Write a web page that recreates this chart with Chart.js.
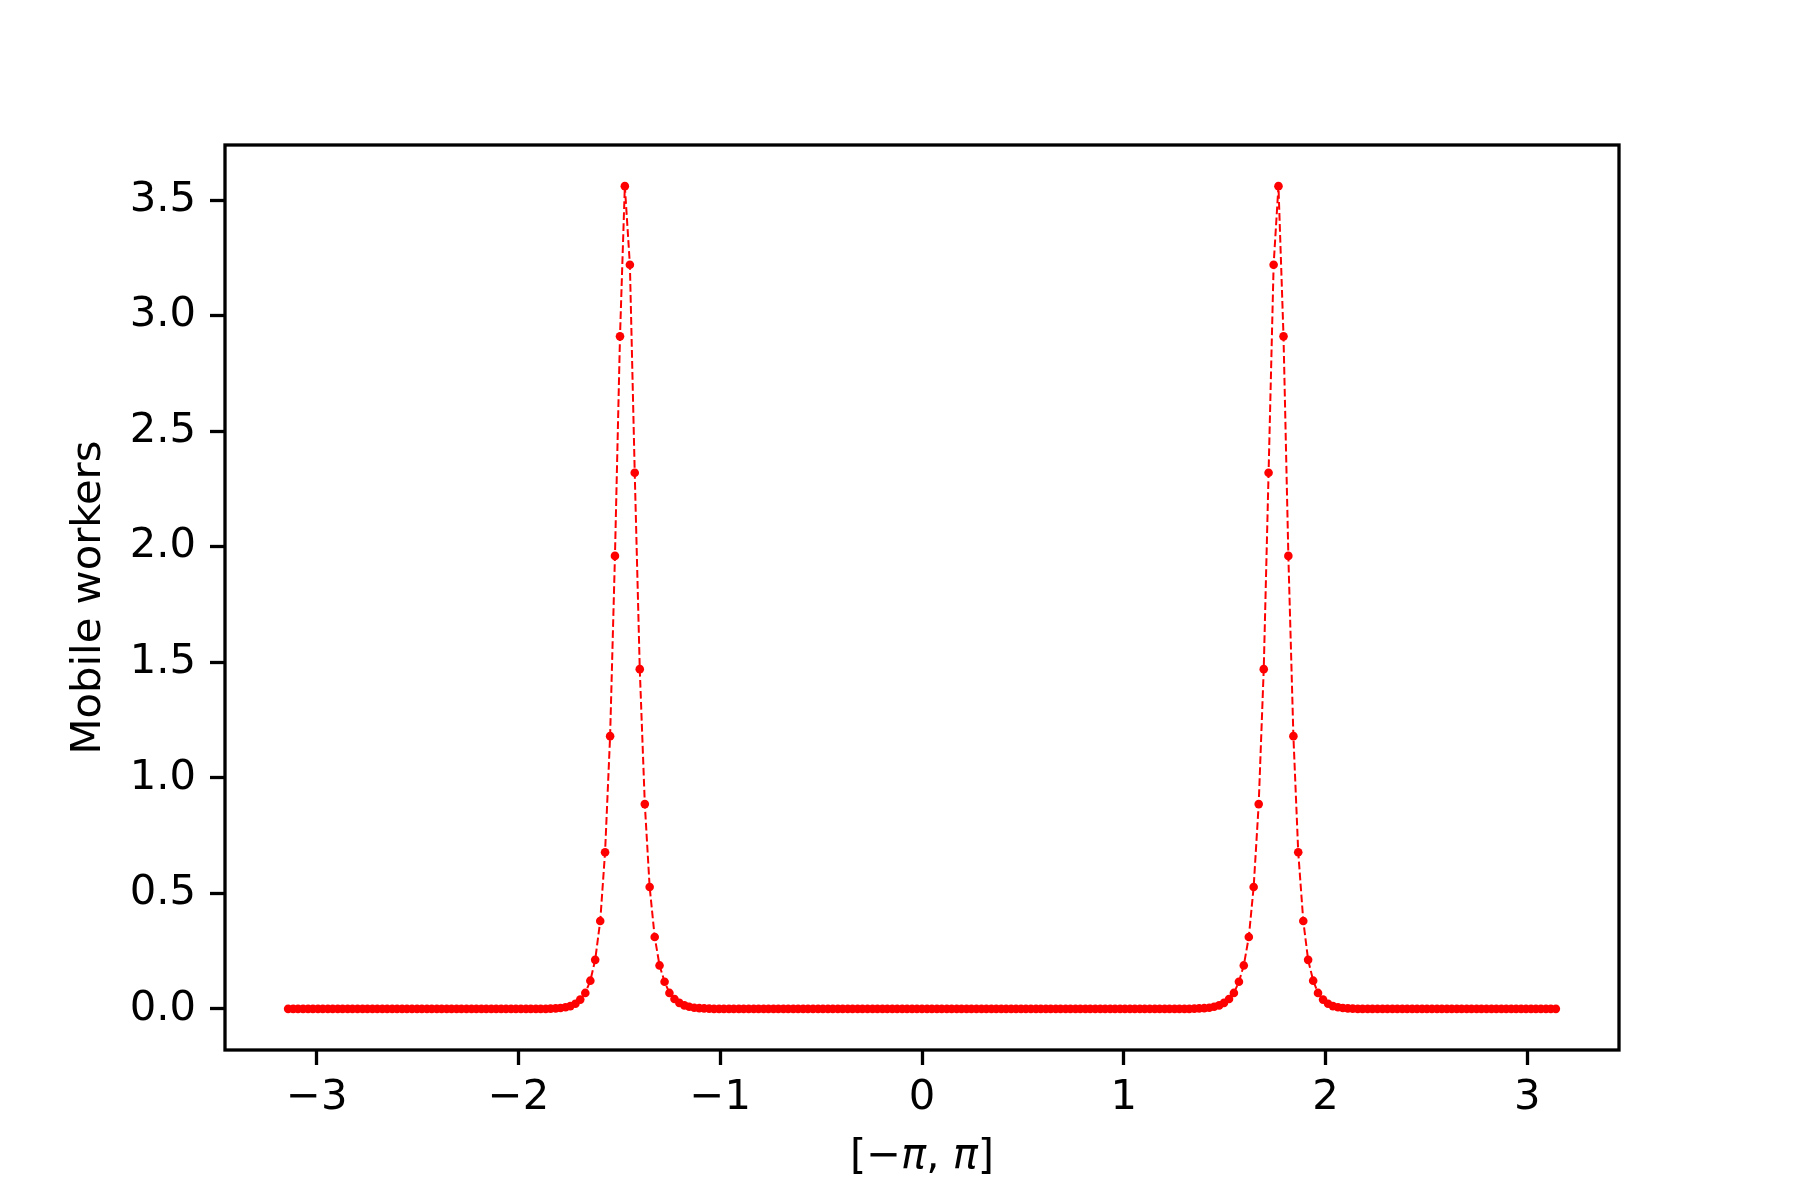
<!DOCTYPE html>
<html>
<head>
<meta charset="utf-8">
<title>Mobile workers</title>
<script src="https://cdn.jsdelivr.net/npm/chart.js@4.4.1/dist/chart.umd.min.js"></script>
<style>
  html, body { margin: 0; padding: 0; background: #fff; }
  canvas { display: block; }
</style>
</head>
<body>
<canvas id="chart" width="1800" height="1200" style="width:1800px;height:1200px"></canvas>
<script>
// positions on [-pi, pi]
const xs = [
  -3.142,-3.117,-3.093,-3.068,-3.043,-3.019,-2.994,-2.970,-2.945,
  -2.921,-2.896,-2.872,-2.847,-2.823,-2.798,-2.773,-2.749,-2.724,-2.700,
  -2.675,-2.651,-2.626,-2.602,-2.577,-2.553,-2.528,-2.503,-2.479,-2.454,
  -2.430,-2.405,-2.381,-2.356,-2.332,-2.307,-2.283,-2.258,-2.233,-2.209,
  -2.184,-2.160,-2.135,-2.111,-2.086,-2.062,-2.037,-2.013,-1.988,-1.963,
  -1.939,-1.914,-1.890,-1.865,-1.841,-1.816,-1.792,-1.767,-1.743,-1.718,
  -1.694,-1.669,-1.644,-1.620,-1.595,-1.571,-1.546,-1.522,-1.497,-1.473,
  -1.448,-1.424,-1.399,-1.374,-1.350,-1.325,-1.301,-1.276,-1.252,-1.227,
  -1.203,-1.178,-1.154,-1.129,-1.104,-1.080,-1.055,-1.031,-1.006,-0.982,
  -0.957,-0.933,-0.908,-0.884,-0.859,-0.834,-0.810,-0.785,-0.761,-0.736,
  -0.712,-0.687,-0.663,-0.638,-0.614,-0.589,-0.565,-0.540,-0.515,-0.491,
  -0.466,-0.442,-0.417,-0.393,-0.368,-0.344,-0.319,-0.295,-0.270,-0.245,
  -0.221,-0.196,-0.172,-0.147,-0.123,-0.098,-0.074,-0.049,-0.025,
  0.000,0.025,0.049,0.074,0.098,0.123,0.147,0.172,0.196,0.221,
  0.245,0.270,0.295,0.319,0.344,0.368,0.393,0.417,0.442,0.466,
  0.491,0.515,0.540,0.565,0.589,0.614,0.638,0.663,0.687,0.712,
  0.736,0.761,0.785,0.810,0.834,0.859,0.884,0.908,0.933,0.957,
  0.982,1.006,1.031,1.055,1.080,1.104,1.129,1.154,1.178,1.203,
  1.227,1.252,1.276,1.301,1.325,1.350,1.374,1.399,1.424,1.448,
  1.473,1.497,1.522,1.546,1.571,1.595,1.620,1.644,1.669,1.694,
  1.718,1.743,1.767,1.792,1.816,1.841,1.865,1.890,1.914,1.939,
  1.963,1.988,2.013,2.037,2.062,2.086,2.111,2.135,2.160,2.184,
  2.209,2.233,2.258,2.283,2.307,2.332,2.356,2.381,2.405,2.430,
  2.454,2.479,2.503,2.528,2.553,2.577,2.602,2.626,2.651,2.675,
  2.700,2.724,2.749,2.773,2.798,2.823,2.847,2.872,2.896,2.921,
  2.945,2.970,2.994,3.019,3.043,3.068,3.093,3.117,3.142
];

// mobile workers at each position
const ys = [
  0,0,0,0,0,0,0,0,0,0, 0,0,0,0,0,0,0,0,0,0,
  0,0,0,0,0,0,0,0,0,0, 0,0,0,0,0,0,0,0,0,0,
  0,0,0,0,0,0,0,0,0,0, 0,0,0,
  // left peak
  0.001,0.002,0.004,0.007,0.012,0.022,0.040,0.069,0.122,0.212,
  0.380,0.678,1.18,1.96,2.91,3.56,3.22,2.32,1.47,0.886,
  0.527,0.311,0.188,0.117,0.069,0.043,0.026,0.015,0.009,0.005,
  0.003,0.002,0.001,
  0,0,0,0,0,0,0,0,0,0, 0,0,0,0,0,0,0,0,0,0,
  0,0,0,0,0,0,0,0,0,0, 0,0,0,0,0,0,0,0,0,0,
  0,0,0,0,0,0,0,0,0,0, 0,0,0,0,0,0,0,0,0,0,
  0,0,0,0,0,0,0,0,0,0, 0,0,0,0,0,0,0,0,0,0,
  0,0,0,0,0,0,0,0,0,0, 0,0,0,0,0,0,0,
  // right peak
  0.001,0.002,0.003,0.005,0.009,0.015,0.026,0.043,0.069,0.117,
  0.188,0.311,0.527,0.886,1.47,2.32,3.22,3.56,2.91,1.96,
  1.18,0.678,0.380,0.212,0.122,0.069,0.040,0.022,0.012,0.007,
  0.004,0.002,0.001,
  0,0,0,0,0,0,0,0,0,0, 0,0,0,0,0,0,0,0,0,0,
  0,0,0,0,0,0,0,0,0,0, 0,0,0,0,0,0,0,0,0,0,
  0
];

const xTicks = [-3, -2, -1, 0, 1, 2, 3];
const yTicks = [0, 0.5, 1, 1.5, 2, 2.5, 3, 3.5];

// x label, pi set in italic like matplotlib mathtext
const xLabelParts = [["[\u2212", ""], ["\u03c0", "italic "], [", ", ""], ["\u03c0", "italic "], ["]", ""]];

const FAMILY = "'DejaVu Sans', sans-serif";
const FONT = { family: FAMILY, size: 41.7 };

Chart.defaults.color = "#000";
Chart.defaults.font.family = FAMILY;

// matplotlib style box around the plot area, plus the x label
const frame = {
  id: "frame",
  afterDraw(chart) {
    const { ctx, chartArea: a } = chart;
    ctx.save();
    ctx.strokeStyle = "#000";
    ctx.lineWidth = 3.3;
    ctx.strokeRect(a.left, a.top, a.right - a.left, a.bottom - a.top);

    ctx.fillStyle = "#000";
    ctx.textBaseline = "middle";
    ctx.textAlign = "left";
    let total = 0;
    const widths = xLabelParts.map(([t, style]) => {
      ctx.font = style + "41.7px " + FAMILY;
      const w = ctx.measureText(t).width;
      total += w;
      return w;
    });
    let x = (a.left + a.right) / 2 - total / 2;
    xLabelParts.forEach(([t, style], i) => {
      ctx.font = style + "41.7px " + FAMILY;
      ctx.fillText(t, x, 1157);
      x += widths[i];
    });
    ctx.restore();
  },
};

new Chart(document.getElementById("chart"), {
  type: "line",
  data: {
    datasets: [
      {
        data: xs.map((x, i) => ({ x: x, y: ys[i] })),
        borderColor: "#ff0000",
        borderWidth: 2,
        borderDash: [7.7, 3.3],
        pointRadius: 4.3,
        pointBackgroundColor: "#ff0000",
        pointBorderWidth: 0,
        tension: 0,
      },
    ],
  },
  options: {
    responsive: false,
    animation: false,
    devicePixelRatio: 1,
    layout: { padding: { left: 0, right: 181, top: 145, bottom: 0 } },
    plugins: { legend: { display: false }, tooltip: { enabled: false } },
    scales: {
      x: {
        type: "linear",
        min: -3.455,
        max: 3.455,
        afterBuildTicks: (s) => { s.ticks = xTicks.map((v) => ({ value: v })); },
        afterFit: (s) => { s.height = 150; },
        grid: { drawOnChartArea: false, tickLength: 15, tickWidth: 3.3, tickColor: "#000" },
        border: { display: false },
        ticks: {
          font: FONT,
          padding: 8,
          maxRotation: 0,
          autoSkip: false,
          callback: (v) => String(v).replace("-", "\u2212"),
        },
        title: { display: false },
      },
      y: {
        min: -0.178,
        max: 3.738,
        afterBuildTicks: (s) => { s.ticks = yTicks.map((v) => ({ value: v })); },
        afterFit: (s) => { s.width = 225; },
        grid: { drawOnChartArea: false, tickLength: 15, tickWidth: 3.3, tickColor: "#000" },
        border: { display: false },
        ticks: {
          font: FONT,
          padding: 14,
          callback: (v) => v.toFixed(1),
        },
        title: {
          display: true,
          text: "Mobile workers",
          font: FONT,
          padding: { top: 64, bottom: 0 },
        },
      },
    },
  },
  plugins: [frame],
});
</script>
</body>
</html>
